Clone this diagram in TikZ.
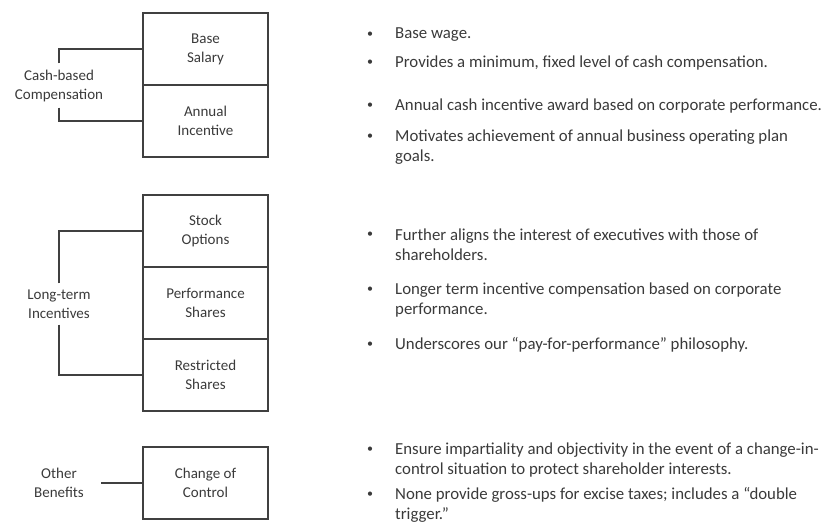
\documentclass[tikz,border=0pt]{standalone}
\usepackage{fontspec}
\setmainfont{Carlito}
\usetikzlibrary{positioning}
\definecolor{compline}{RGB}{64,64,64}
\definecolor{comptext}{RGB}{58,58,58}

\begin{document}
\begin{tikzpicture}[
    x=1pt, y=-1pt,
    node distance=0pt,
    comp/.style={draw=compline, rectangle, minimum width=125pt, minimum height=72pt, inner sep=0pt, outer sep=0pt, line width=1.4pt, align=center, font=\fontsize{15}{19}\selectfont, text=comptext},
    grp/.style={align=center, font=\fontsize{15}{19}\selectfont, text=comptext, inner sep=6pt},
    bul/.style={font=\fontsize{12}{14}\selectfont, text=comptext, inner sep=0pt},
    txt/.style={font=\fontsize{16.8}{20}\selectfont, text=comptext, inner sep=0pt, anchor=west, align=left},
    link/.style={compline, line width=1.4pt},
]
  \useasboundingbox (0,0) rectangle (824,523);
  \node[comp] (box0_0) at (205.5,49) {Base\\Salary};
  \node[comp, below=of box0_0] (box0_1) {Annual\\Incentive};
  \node[comp] (box1_0) at (205.5,231) {Stock\\Options};
  \node[comp, below=of box1_0] (box1_1) {Performance\\Shares};
  \node[comp, below=of box1_1] (box1_2) {Restricted\\Shares};
  \node[comp] (box2_0) at (205.5,483) {Change of\\Control};
  \node[grp] (grp0) at (59,85.5) {Cash-based\\Compensation};
  \node[grp] (grp1) at (59,304) {Long-term\\Incentives};
  \node[grp] (grp2) at (59,483) {Other\\Benefits};
  \draw[link] (grp0.north) |- (box0_0.west);
  \draw[link] (grp0.south) |- (box0_1.west);
  \draw[link] (grp1.north) |- (box1_0.west);
  \draw[link] (grp1.south) |- (box1_2.west);
  \draw[link] ([xshift=11pt]grp2.east) -- (box2_0.west);
  \node[bul] (dot0_0) at (370,35) {\textbullet};
  \node[bul] (dot0_1) at (370,63) {\textbullet};
  \node[bul] (dot0_2) at (370,106) {\textbullet};
  \node[bul] (dot0_3) at (370,137) {\textbullet};
  \node[bul] (dot1_0) at (370,235) {\textbullet};
  \node[bul] (dot1_1) at (370,290) {\textbullet};
  \node[bul] (dot1_2) at (370,345) {\textbullet};
  \node[bul] (dot2_0) at (370,450) {\textbullet};
  \node[bul] (dot2_1) at (370,495) {\textbullet};
  \node[txt] (txt0_0) at (395,35) {Base wage.};
  \node[txt] (txt0_1) at (395,63) {Provides a minimum, fixed level of cash compensation.};
  \node[txt] (txt0_2) at (395,106) {Annual cash incentive award based on corporate performance.};
  \node[txt] (txt0_3) at (395,147) {Motivates achievement of annual business operating plan\\goals.};
  \node[txt] (txt1_0) at (395,245) {Further aligns the interest of executives with those of\\shareholders.};
  \node[txt] (txt1_1) at (395,300) {Longer term incentive compensation based on corporate\\performance.};
  \node[txt] (txt1_2) at (395,345) {Underscores our “pay-for-performance” philosophy.};
  \node[txt] (txt2_0) at (395,460) {Ensure impartiality and objectivity in the event of a change-in-\\control situation to protect shareholder interests.};
  \node[txt] (txt2_1) at (395,505) {None provide gross-ups for excise taxes; includes a “double\\trigger.”};
\end{tikzpicture}
\end{document}
